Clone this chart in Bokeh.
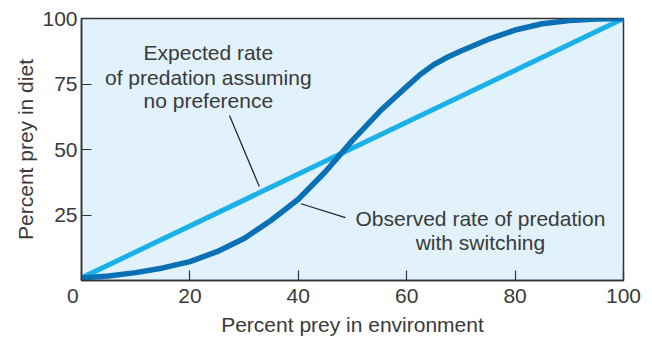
from bokeh.plotting import figure
from bokeh.models import Range1d, FixedTicker
from bokeh.core.properties import value
from bokeh.embed import file_html
from bokeh.resources import INLINE

# ---- data ----
env_pct = [0, 5, 10, 15, 20, 25, 30, 35, 40, 45, 50, 55, 60, 62.5, 65, 67.5, 70, 75, 80, 85, 90, 95, 100]
observed_diet = [1, 1.7, 3, 4.8, 7.2, 11, 16, 23, 31, 41.5, 53.5, 64.5, 74, 78.6, 82.4, 85.2, 87.6, 92, 95.6, 98, 99.2, 99.8, 100]
expected_env = [0, 100]
expected_diet = [1, 100]
x_ticks = [0, 20, 40, 60, 80, 100]
y_ticks = [0, 25, 50, 75, 100]

expected_text = ["Expected rate", "of predation assuming", "no preference"]
expected_text_x = [23.4, 23.4, 23.4]
expected_text_y = [87.0, 77.5, 68.7]
observed_text = ["Observed rate of predation", "with switching"]
observed_text_x = [73.6, 73.6]
observed_text_y = [23.7, 14.5]
leader1_x = [27.3, 32.8]
leader1_y = [63.0, 35.9]
leader2_x = [40.5, 48.7]
leader2_y = [29.3, 24.0]

FONT = "Liberation Sans"
TXT = "#3a3a3a"
LIGHT = "#1ab0e8"
DARK = "#0a70b6"

p = figure(width=652, height=340, output_backend="svg", toolbar_location=None,
           x_range=Range1d(0, 100), y_range=Range1d(0, 100),
           min_border_left=81, min_border_right=29, min_border_top=18, min_border_bottom=60)
p.background_fill_color = "#e1f2fc"
p.border_fill_color = "white"
p.outline_line_color = "#333333"
p.outline_line_width = 1.5
p.xgrid.visible = False
p.ygrid.visible = False

for ax in (p.xaxis[0], p.yaxis[0]):
    ax.axis_line_color = "#333333"
    ax.axis_line_width = 1.5
    ax.major_tick_line_color = "#333333"
    ax.major_tick_line_width = 1.2
    ax.major_tick_in = 10
    ax.major_tick_out = 0
    ax.minor_tick_line_color = None
    ax.major_label_text_font = FONT
    ax.major_label_text_font_size = "21px"
    ax.major_label_text_color = TXT
    ax.axis_label_text_font = FONT
    ax.axis_label_text_font_size = "21px"
    ax.axis_label_text_font_style = "normal"
    ax.axis_label_text_color = TXT

p.xaxis.ticker = FixedTicker(ticks=x_ticks)
p.yaxis.ticker = FixedTicker(ticks=y_ticks)
# shared origin label drawn once, shifted left under the corner
p.xaxis.major_label_overrides = {0: "0\u00a0\u00a0\u00a0"}
p.yaxis.major_label_overrides = {0: ""}
p.xaxis.major_label_standoff = 3
p.yaxis.major_label_standoff = 4
p.xaxis.axis_label = "Percent prey in environment"
p.yaxis.axis_label = "Percent prey in diet"
p.xaxis.axis_label_standoff = 3
p.yaxis.axis_label_standoff = 2

p.line(expected_env, expected_diet, line_color=LIGHT, line_width=5)
p.line(env_pct, observed_diet, line_color=DARK, line_width=5.5, line_join="round")

p.line(leader1_x, leader1_y, line_color="#222222", line_width=1.2)
p.line(leader2_x, leader2_y, line_color="#222222", line_width=1.2)

p.text(x=expected_text_x, y=expected_text_y, text=expected_text, text_font=value(FONT),
       text_font_size="21px", text_color=TXT, text_align="center", text_baseline="middle")
p.text(x=observed_text_x, y=observed_text_y, text=observed_text, text_font=value(FONT),
       text_font_size="21px", text_color=TXT, text_align="center", text_baseline="middle")

open("out.html", "w").write(file_html(p, INLINE))
